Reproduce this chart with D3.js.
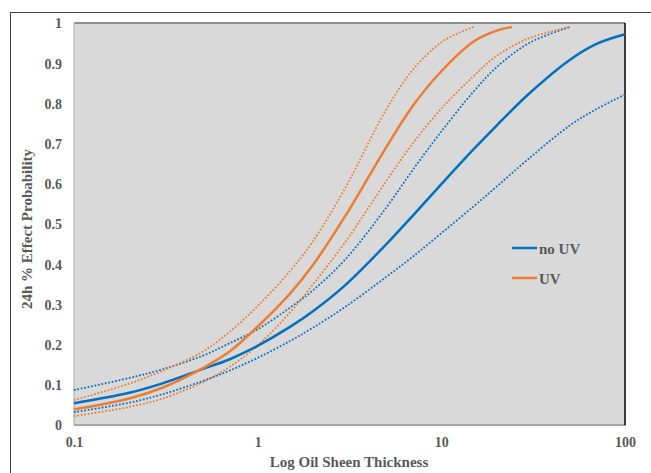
<!DOCTYPE html>
<html>
<head>
<meta charset="utf-8">
<script src="https://cdn.jsdelivr.net/npm/d3@7"></script>
<style>
  html, body { margin: 0; padding: 0; background: #ffffff; }
  svg { display: block; }
  text { font-family: "Liberation Serif", "Times New Roman", serif; font-weight: bold; fill: #595959; }
</style>
</head>
<body>
<svg id="chart" width="651" height="473"></svg>
<script>
// ---- data ----
const xTicks = [0.1, 1, 10, 100];
const yTicks = [0, 0.1, 0.2, 0.3, 0.4, 0.5, 0.6, 0.7, 0.8, 0.9, 1];
const seriesNames = ["no UV", "UV"];

const noUVx      = [0.1, 0.2, 0.3, 0.5, 0.7, 1, 1.5, 2, 3, 5, 7, 10, 15, 20, 30, 50, 70, 100];
const noUV       = [0.054, 0.080, 0.103, 0.139, 0.163, 0.197, 0.244, 0.283, 0.348, 0.449, 0.521, 0.599, 0.686, 0.745, 0.824, 0.908, 0.948, 0.972];
const noUVUpperX = [0.1, 0.2, 0.3, 0.5, 0.7, 1, 1.5, 2, 3, 5, 7, 10, 15, 20, 30, 50];
const noUVUpper  = [0.087, 0.117, 0.138, 0.172, 0.203, 0.238, 0.292, 0.335, 0.412, 0.540, 0.635, 0.730, 0.830, 0.890, 0.950, 0.99];
const noUVLowerX = [0.1, 0.2, 0.3, 0.5, 0.7, 1, 1.5, 2, 3, 5, 7, 10, 15, 20, 30, 50, 70, 100];
const noUVLower  = [0.032, 0.0555, 0.076, 0.109, 0.135, 0.167, 0.209, 0.242, 0.294, 0.368, 0.419, 0.477, 0.544, 0.593, 0.663, 0.745, 0.786, 0.822];

const uvX        = [0.1, 0.2, 0.3, 0.5, 0.7, 1, 1.5, 2, 3, 5, 7, 10, 15, 20, 24.2];
const uv         = [0.039, 0.066, 0.092, 0.141, 0.182, 0.245, 0.327, 0.398, 0.520, 0.690, 0.794, 0.880, 0.954, 0.981, 0.99];
const uvUpperX   = [0.1, 0.2, 0.3, 0.5, 0.7, 1, 1.5, 2, 3, 5, 7, 10, 12.4, 15];
const uvUpper    = [0.062, 0.103, 0.134, 0.182, 0.231, 0.296, 0.383, 0.457, 0.590, 0.784, 0.884, 0.952, 0.975, 0.99];
const uvLowerX   = [0.1, 0.2, 0.3, 0.5, 0.7, 1, 1.5, 2, 3, 5, 7, 10, 15, 20, 30, 50];
const uvLower    = [0.022, 0.045, 0.065, 0.106, 0.144, 0.198, 0.280, 0.350, 0.455, 0.606, 0.701, 0.787, 0.868, 0.918, 0.962, 0.99];

// ---- layout ----
const svg = d3.select("#chart");
const plot = { left: 74, right: 625, top: 23, bottom: 425 };
const BLUE = "#0070C0", ORANGE = "#ED7D31";

const x = d3.scaleLog().domain([0.1, 100]).range([plot.left, plot.right]);
const y = d3.scaleLinear().domain([0, 1]).range([plot.bottom, plot.top]);

// outer chart frame (extends past the window)
svg.append("rect")
  .attr("x", 10.5).attr("y", 12.5)
  .attr("width", 700).attr("height", 500)
  .attr("fill", "none").attr("stroke", "#404040").attr("stroke-width", 1);

// plot area
svg.append("rect")
  .attr("x", plot.left).attr("y", plot.top)
  .attr("width", plot.right - plot.left).attr("height", plot.bottom - plot.top)
  .attr("fill", "#D9D9D9");

// borders
svg.append("line").attr("x1", plot.left).attr("x2", plot.right).attr("y1", plot.top).attr("y2", plot.top)
  .attr("stroke", "#707070").attr("stroke-width", 1.5);
svg.append("line").attr("x1", plot.left).attr("x2", plot.left).attr("y1", plot.top).attr("y2", plot.bottom)
  .attr("stroke", "#BFBFBF").attr("stroke-width", 1.5);
svg.append("line").attr("x1", plot.left).attr("x2", plot.right + 1).attr("y1", plot.bottom).attr("y2", plot.bottom)
  .attr("stroke", "#A6A6A6").attr("stroke-width", 2);
svg.append("line").attr("x1", plot.right).attr("x2", plot.right).attr("y1", plot.top).attr("y2", plot.bottom)
  .attr("stroke", "#000000").attr("stroke-width", 1.5);

// axes (labels only, no domain / tick marks)
const yAxis = d3.axisLeft(y).tickValues(yTicks).tickSize(0).tickPadding(0)
  .tickFormat(d => (d === 0 || d === 1) ? String(d) : d.toFixed(1));
const gy = svg.append("g").attr("transform", `translate(${plot.left - 12},0)`).call(yAxis);
gy.select(".domain").remove();
gy.selectAll("text").attr("font-size", 14).attr("font-family", "Liberation Serif").attr("font-weight", "bold")
  .attr("fill", "#595959").attr("dy", "0.35em");

const xAxis = d3.axisBottom(x).tickValues(xTicks).tickSize(0).tickPadding(0)
  .tickFormat(d => String(d));
const gx = svg.append("g").attr("transform", `translate(0,${plot.bottom})`).call(xAxis);
gx.select(".domain").remove();
gx.selectAll("text").attr("font-size", 14).attr("font-family", "Liberation Serif").attr("font-weight", "bold")
  .attr("fill", "#595959").attr("y", 22).attr("dy", 0);

// axis titles
svg.append("text").attr("x", 349).attr("y", 467).attr("text-anchor", "middle")
  .attr("font-size", 15).text("Log Oil Sheen Thickness");
svg.append("text").attr("transform", "translate(32,229) rotate(-90)").attr("text-anchor", "middle")
  .attr("font-size", 15).text("24h % Effect Probability");

// curves
const line = d3.line().x(d => x(d[0])).y(d => y(d[1])).curve(d3.curveCatmullRom.alpha(0.5));
const zip = (xs, ys) => xs.map((v, i) => [v, ys[i]]);

const curves = [
  { xs: noUVUpperX, ys: noUVUpper, color: BLUE, dotted: true },
  { xs: noUVLowerX, ys: noUVLower, color: BLUE, dotted: true },
  { xs: uvUpperX, ys: uvUpper, color: ORANGE, dotted: true },
  { xs: uvLowerX, ys: uvLower, color: ORANGE, dotted: true },
  { xs: noUVx, ys: noUV, color: BLUE, dotted: false },
  { xs: uvX, ys: uv, color: ORANGE, dotted: false }
];

svg.append("g").selectAll("path").data(curves).join("path")
  .attr("d", c => line(zip(c.xs, c.ys)))
  .attr("fill", "none")
  .attr("stroke", c => c.color)
  .attr("stroke-width", c => c.dotted ? 1.75 : 2.5)
  .attr("stroke-dasharray", c => c.dotted ? "1.75,1.75" : null);

// legend
const legendColors = [BLUE, ORANGE];
const lg = svg.append("g");
seriesNames.forEach((name, i) => {
  const ly = 248 + i * 30;
  lg.append("line").attr("x1", 512).attr("x2", 537).attr("y1", ly).attr("y2", ly)
    .attr("stroke", legendColors[i]).attr("stroke-width", 2.5);
  lg.append("text").attr("x", 539).attr("y", ly + 5.5).attr("font-size", 15).text(name);
});
</script>
</body>
</html>
